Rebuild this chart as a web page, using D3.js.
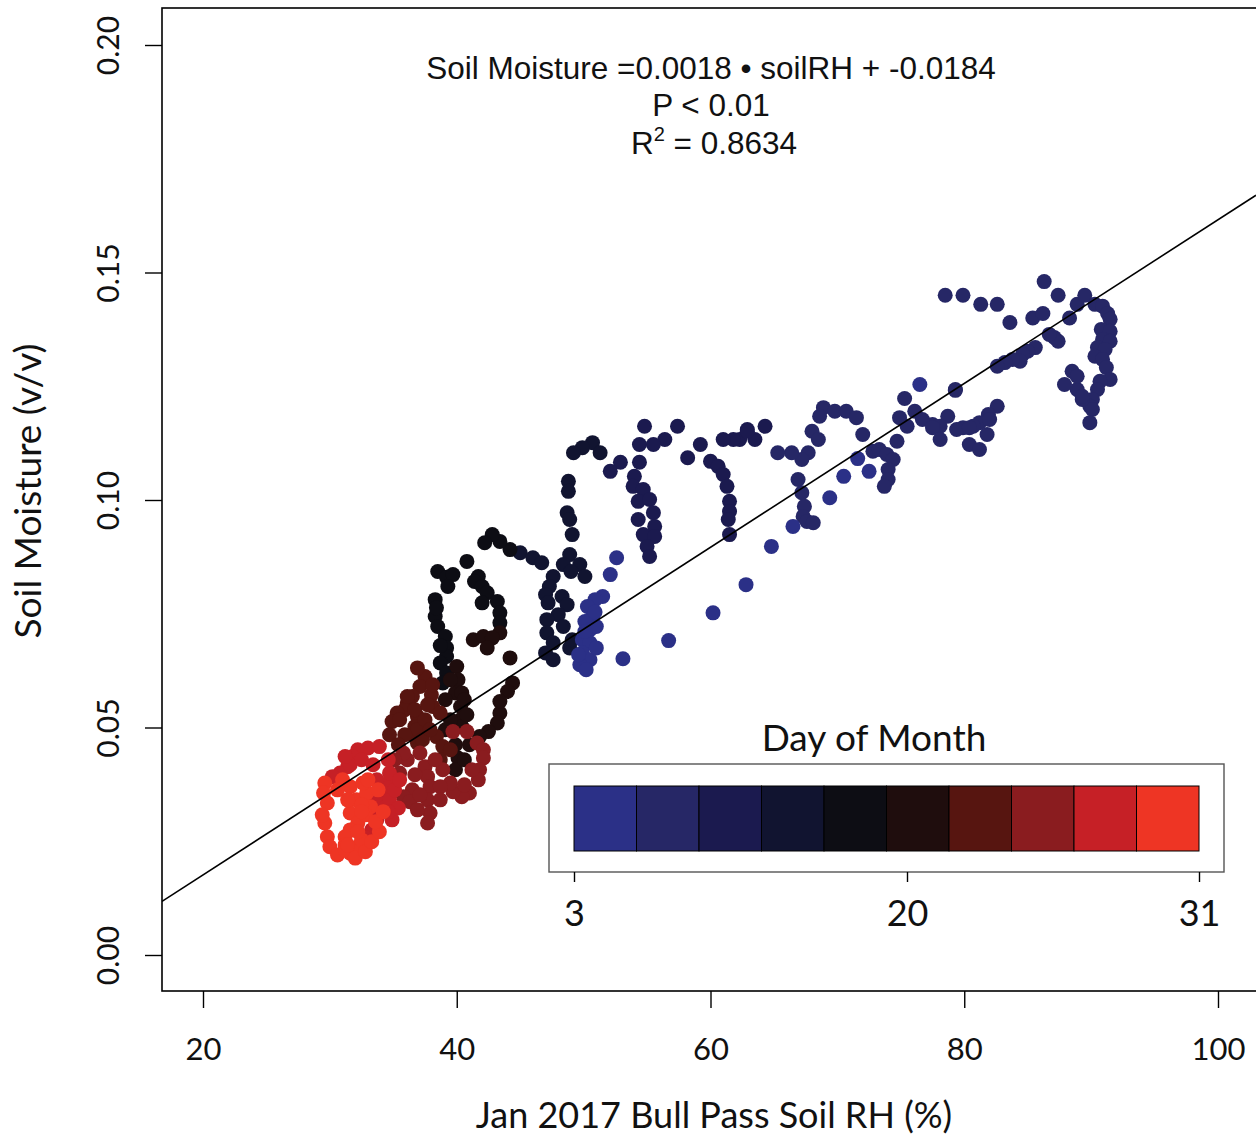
<!DOCTYPE html>
<html><head><meta charset="utf-8">
<script src="https://cdn.jsdelivr.net/npm/d3@7"></script>
<style>body{margin:0;background:#fff}svg{display:block}</style>
</head><body><svg id="c" width="1256" height="1138"></svg>
<script>
// ---- data (soil RH %, soil moisture v/v) grouped by day of month ----
const day4 = [[76.5,0.1254],[66.5,0.0942],[64.8,0.0898],[69.4,0.1005],[70.5,0.1052],[71.6,0.1091],[72.5,0.1063],
  [62.8,0.0814],[60.2,0.0752],[56.7,0.0691],[53.1,0.0651],
  [52.6,0.0873],[52.1,0.0836],[51.5,0.0788],[50.9,0.0781],[50.3,0.0766],[50.7,0.0744],[50.1,0.0733],[50.5,0.0715],
  [49.9,0.0693],[50.5,0.0686],[49.9,0.0664],[50.5,0.0649],[49.7,0.0638],[50.2,0.0627],
  [50.9,0.0754],[51.0,0.0722],[50.1,0.0711],[51.0,0.0675],[49.6,0.0660]];
const day7 = [[78.5,0.145],[79.9,0.145],[81.3,0.143],[82.6,0.143],[83.6,0.139],[86.3,0.148],[87.4,0.145],[85.4,0.140],
  [86.2,0.141],[88.3,0.140],[88.9,0.143],[89.5,0.145],[90.3,0.143],[90.9,0.1426],[91.3,0.141],[91.5,0.1397],
  [90.8,0.1375],[91.5,0.1371],[90.9,0.1353],[91.5,0.1349],[90.5,0.1335],[91.1,0.1331],[90.3,0.1316],[90.9,0.1309],
  [91.2,0.1291],[91.5,0.1265],[90.7,0.1261],[90.5,0.1243],[90.1,0.1221],[89.9,0.1206],[90.1,0.1199],[89.9,0.1170],
  [89.3,0.1221],[88.9,0.1243],[88.5,0.1283],[88.9,0.1272],[87.9,0.1254],[89.3,0.1228],[87.1,0.1357],[87.4,0.1349],
  [86.7,0.1364],[85.6,0.1335],[85.0,0.1327],[84.6,0.1320],[84.4,0.1305],[83.8,0.1309],[83.2,0.1302],[82.6,0.1294],
  [79.3,0.1243],[82.6,0.1206],[81.9,0.1188],[81.2,0.1170],[80.7,0.1162],[79.9,0.1159],[78.7,0.1184],[78.1,0.1162],
  [77.5,0.1166],[75.3,0.1223],[79.3,0.1241],
  [68.9,0.1203],[68.6,0.1184],[69.8,0.1195],[70.7,0.1195],[71.5,0.1181],[72.0,0.1144],[68.0,0.1151],[68.5,0.1133],
  [67.7,0.1104],[67.2,0.1089],[66.4,0.1104],[65.3,0.1104],[66.9,0.1045],[67.2,0.1016],[67.4,0.0986],[67.3,0.0964],
  [67.6,0.0953],[68.1,0.0950],
  [72.8,0.1107],[73.3,0.1111],[73.9,0.1100],[74.4,0.1089],[74.0,0.1067],[74.0,0.1045],[73.7,0.1030],[74.7,0.1129],
  [74.9,0.1181],[75.5,0.1162],[76.1,0.1195],[76.7,0.1177],[77.5,0.1159],[78.1,0.1133],[79.4,0.1155],[80.4,0.1159],
  [82.0,0.1177],[80.4,0.1122],[81.2,0.1111],[81.8,0.1144]];
const day10 = [[62.9,0.1155],[64.3,0.1162],[63.5,0.1133],[62.3,0.1133],
  [54.8,0.1162],[57.4,0.1162],[62.9,0.1151],[61.8,0.1133],[61.0,0.1133],[59.2,0.1122],[58.2,0.1093],[60.0,0.1085],
  [60.6,0.1074],[61.0,0.1056],[61.3,0.1030],[61.5,0.0997],[61.5,0.0975],[61.4,0.0957],[61.5,0.0924],
  [56.4,0.1133],[55.5,0.1122],[54.4,0.1122],[54.4,0.1083],[54.0,0.1052],[53.9,0.1030],[54.7,0.1023],[54.3,0.0997],
  [55.2,0.1001],[55.5,0.0972],[54.3,0.0957],[55.6,0.0942],[54.7,0.0924],[55.6,0.0920],[55.0,0.0898],[55.2,0.0876],
  [52.9,0.1083],[52.1,0.1063]];
const day13 = [[50.7,0.1126],[49.9,0.1115],[49.2,0.1104],[51.3,0.1104],[48.8,0.1041],[48.8,0.1019],[48.7,0.0972],
  [48.9,0.0957],[49.1,0.0924],[48.9,0.0880],[48.4,0.0858],[49.7,0.0858],[50.1,0.0832],[49.0,0.0843],[47.6,0.0832],
  [47.3,0.0810],[47.0,0.0792],[47.2,0.0774],[48.3,0.0788],[48.7,0.0770],[48.0,0.0748],[48.4,0.0722],[47.1,0.0737],
  [47.1,0.0708],[47.6,0.0686],[47.0,0.0664],[47.6,0.0649],[48.9,0.0675],[49.1,0.0693],
  [45.0,0.0884],[46.0,0.0873],[46.7,0.0862]];
const day16 = [[44.2,0.0891],[43.4,0.0909],[42.8,0.0924],[42.2,0.0906],
  [40.8,0.0865],[38.5,0.0843],[39.2,0.0830],[39.7,0.0836],[39.3,0.0810],[38.3,0.0781],[41.7,0.0832],[41.4,0.0821],
  [42.0,0.0810],[42.4,0.0796],[42.0,0.0774],[43.2,0.0777],[43.4,0.0752],[43.4,0.0730],[38.3,0.0744],[38.5,0.0722],
  [39.1,0.0700],[39.2,0.0675],[39.2,0.0656],[38.7,0.0642],[39.2,0.0620],
  [38.4,0.0763],[38.7,0.0680],[38.9,0.0598]];
const day18 = [[43.4,0.0708],[41.3,0.0693],[42.1,0.0700],[42.8,0.0697],[42.4,0.0675],[44.2,0.0653],[44.4,0.0598],
  [44.0,0.0579],[43.4,0.0532],[43.4,0.0557],[43.2,0.0510],[42.5,0.0491],[41.8,0.0480],
  [40.0,0.0634],[40.1,0.0605],[39.9,0.0576],[40.4,0.0576],[40.3,0.0546],[40.3,0.0517],[40.4,0.0502],[40.1,0.0433],
  [39.9,0.0407],
  [39.5,0.0605],[40.6,0.0561],[40.8,0.0528],[39.5,0.0517],[41.0,0.0462],[40.6,0.0429],[39.9,0.0462],[39.1,0.0495],
  [39.1,0.0561]];
const day21 = [[37.5,0.0612],[37.1,0.0590],[36.5,0.0568],[36.1,0.0554],[35.9,0.0539],[38.0,0.0572],[38.1,0.0546],
  [38.7,0.0532],[36.9,0.0524],[36.7,0.0502],[36.5,0.0484],[38.4,0.0480],[38.9,0.0458],[38.7,0.0429],[39.5,0.0451],
  [36.1,0.0568],[35.3,0.0532],[34.9,0.0513],[36.7,0.0539],[36.9,0.0495],[36.9,0.0466],
  [35.5,0.0517],[35.9,0.0484],[37.5,0.0517],[37.7,0.0550],[37.3,0.0473],[37.9,0.0495],[34.7,0.0484],[35.4,0.0462],
  [36.9,0.0631],[38.1,0.0594]];
const day24 = [[39.7,0.0491],[40.8,0.0491],[41.6,0.0466],[42.1,0.0451],[42.1,0.0433],[41.8,0.0407],[41.7,0.0385],
  [41.0,0.0356],[40.4,0.0348],[39.7,0.0359],[39.5,0.0378],[37.1,0.0444],[36.1,0.0429],[37.5,0.0414],[37.7,0.0392],
  [37.9,0.0370],[37.7,0.0341],[37.9,0.0312],[37.7,0.0290],[36.5,0.0363],[35.8,0.0348],[36.3,0.0337],[38.9,0.0407],
  [38.7,0.0370],[35.8,0.0444],[35.1,0.0429],[35.5,0.0400],
  [36.7,0.0396],[36.9,0.0319],[38.7,0.0341],[40.6,0.0374],[41.2,0.0407],[37.1,0.0352],[38.3,0.0429]];
const day27 = [[32.2,0.0451],[33.0,0.0455],[33.9,0.0458],[31.8,0.0436],[31.4,0.0414],[30.8,0.0400],[30.2,0.0392],
  [34.6,0.0378],[34.7,0.0400],[34.3,0.0348],[33.9,0.0326],[33.7,0.0297],[33.3,0.0275],[32.9,0.0257],[34.7,0.0341],
  [33.7,0.0385],[33.6,0.0348],[33.3,0.0308],
  [31.6,0.0418],[32.5,0.0429],[33.4,0.0418],[34.6,0.0429],[35.1,0.0363],[35.4,0.0323],[34.9,0.0297],[34.6,0.0315],
  [31.2,0.0436],[35.5,0.0385]];
const day30 = [[29.6,0.0378],[29.5,0.0356],[29.8,0.0334],[29.6,0.0290],[29.8,0.0260],[30.0,0.0238],[30.6,0.0220],
  [31.6,0.0224],[32.2,0.0238],[31.6,0.0370],[32.1,0.0341],[31.6,0.0312],[32.2,0.0290],[31.6,0.0275],[31.2,0.0260],
  [32.9,0.0356],[33.2,0.0326],[32.6,0.0378],[32.5,0.0330],[32.8,0.0308],[31.2,0.0242],[32.5,0.0253],
  [31.0,0.0385],[31.4,0.0341],[31.2,0.0231],[32.0,0.0213],[32.8,0.0227],[33.3,0.0249],
  [33.9,0.0271],[33.6,0.0293],[34.2,0.0315],[33.0,0.0385],[33.8,0.0363],[32.5,0.0315],[32.2,0.0271],[31.4,0.0242],
  [29.4,0.0308],[30.6,0.0363]];

const dayGroups = [[7,day7],[10,day10],[13,day13],[16,day16],[18,day18],[21,day21],[24,day24],[27,day27],[30,day30],[4,day4]];

const legendColors = ["#2b3087","#262766","#1b1a4f","#111430","#0d0d14","#1f0d0d","#571510","#8a1c1f","#c62026","#ee3524"];
const legendTicks = [3,20,31];
const xTicks = [20,40,60,80,100];
const yTicks = [0.00,0.05,0.10,0.15,0.20];
const slope = 0.0018, intercept = -0.0184;

// ---- scales ----
const svg = d3.select("#c");
const x = d3.scaleLinear().domain([20,100]).range([203,1218]);
const y = d3.scaleLinear().domain([0,0.20]).range([955,45]);
const color = d3.scaleQuantize().domain([3,31]).range(legendColors);
const plotL = 162, plotT = 8, plotB = 991, plotR = 1262;

const sans = "Lato, 'Open Sans', sans-serif";
const helv = "'Liberation Sans', Arial, sans-serif";

svg.append("clipPath").attr("id","clip").append("rect")
  .attr("x",plotL).attr("y",plotT).attr("width",plotR-plotL).attr("height",plotB-plotT);

// points
const pts = svg.append("g").attr("clip-path","url(#clip)");
dayGroups.forEach(([d, arr]) => {
  pts.selectAll(null).data(arr).enter().append("circle")
    .attr("cx", p => x(p[0])).attr("cy", p => y(p[1])).attr("r", 7.5)
    .attr("fill", color(d));
});

// regression line
const x0 = x.invert(plotL), x1 = x.invert(1256);
svg.append("line").attr("clip-path","url(#clip)")
  .attr("x1", x(x0)).attr("y1", y(slope*x0+intercept))
  .attr("x2", x(x1)).attr("y2", y(slope*x1+intercept))
  .attr("stroke","#000").attr("stroke-width",1.6);

// box
svg.append("rect").attr("x",plotL).attr("y",plotT).attr("width",plotR-plotL).attr("height",plotB-plotT)
  .attr("fill","none").attr("stroke","#000").attr("stroke-width",1.6);

// x axis
const xa = svg.append("g").attr("transform",`translate(0,${plotB})`)
  .call(d3.axisBottom(x).tickValues(xTicks).tickSize(17).tickPadding(30).tickFormat(d3.format("d")));
xa.select(".domain").remove();
xa.selectAll("line").attr("stroke","#000").attr("stroke-width",1.4);
xa.selectAll("text").attr("font-family",sans).attr("font-size",31).attr("fill","#111");

// y axis
const ya = svg.append("g").attr("transform",`translate(${plotL},0)`)
  .call(d3.axisLeft(y).tickValues(yTicks).tickSize(17).tickFormat(d3.format(".2f")));
ya.select(".domain").remove();
ya.selectAll("line").attr("stroke","#000").attr("stroke-width",1.4);
ya.selectAll("text").attr("font-family",sans).attr("font-size",30).attr("fill","#111")
  .attr("x",null).attr("dy",null).attr("text-anchor","middle")
  .attr("transform","translate(-43,0) rotate(-90)");

// axis titles
svg.append("text").attr("x",714).attr("y",1128).attr("text-anchor","middle")
  .attr("font-family",sans).attr("font-size",36).attr("fill","#111").text("Jan 2017 Bull Pass Soil RH (%)");
svg.append("text").attr("transform","translate(41,491) rotate(-90)").attr("text-anchor","middle")
  .attr("font-family",sans).attr("font-size",37).attr("fill","#111").text("Soil Moisture (v/v)");

// equation
const eq = svg.append("g").attr("font-family",helv).attr("font-size",31.5).attr("fill","#111").attr("text-anchor","middle");
eq.append("text").attr("x",711).attr("y",79).text("Soil Moisture =0.0018 \u2022 soilRH + -0.0184");
eq.append("text").attr("x",711).attr("y",116).text("P < 0.01");
const r2 = eq.append("text").attr("x",714).attr("y",154);
r2.append("tspan").text("R");
r2.append("tspan").attr("font-size",20).attr("dy",-13).text("2");
r2.append("tspan").attr("dy",13).text(" = 0.8634");

// legend
const lg = svg.append("g");
lg.append("rect").attr("x",549).attr("y",764).attr("width",675).attr("height",108)
  .attr("fill","#fff").attr("stroke","#555").attr("stroke-width",1.4);
lg.append("text").attr("x",874).attr("y",751).attr("text-anchor","middle")
  .attr("font-family",sans).attr("font-size",37).attr("fill","#111").text("Day of Month");
const band = d3.scaleBand().domain(d3.range(legendColors.length)).range([574,1199]);
lg.selectAll(null).data(legendColors).enter().append("rect")
  .attr("x",(c,i)=>band(i)).attr("y",786).attr("width",band.bandwidth()).attr("height",65)
  .attr("fill",c=>c).attr("stroke","#000").attr("stroke-width",1);
const lx = d3.scaleLinear().domain([3,20,31]).range([574,907,1199]);
const la = lg.append("g").attr("transform","translate(0,872)")
  .call(d3.axisBottom(lx).tickValues(legendTicks).tickSize(10).tickPadding(18).tickFormat(d3.format("d")));
la.select(".domain").remove();
la.selectAll("line").attr("stroke","#000").attr("stroke-width",1.4);
la.selectAll("text").attr("font-family",sans).attr("font-size",36).attr("fill","#111");
</script></body></html>
